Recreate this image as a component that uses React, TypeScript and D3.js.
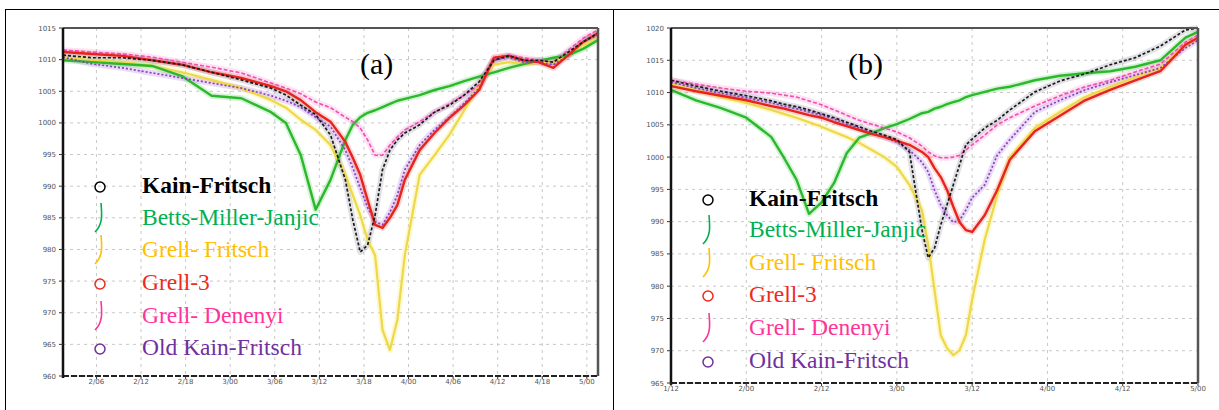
import React from 'react';
import * as d3 from 'd3';

// ---------- Panel (a) data (time in hours, pressure in hPa) ----------
const timeA = [0, 4, 8, 12, 16, 20, 24, 28, 30, 32, 34, 36, 38, 39, 40, 41, 42, 43, 44, 45, 46, 48, 50, 52, 54, 56, 58, 60, 62, 64, 66, 68, 70, 72];
const kfA = [1010.7, 1010.3, 1010.3, 1009.9, 1009.2, 1008.0, 1006.8, 1005.5, 1004.4, 1002.8, 1001.3, 998.1, 991.0, 984.7, 979.6, 980.7, 985.4, 992.6, 995.7, 997.3, 998.4, 999.7, 1001.7, 1002.8, 1004.4, 1006.5, 1009.9, 1010.6, 1009.9, 1009.9, 1009.6, 1011.2, 1012.8, 1014.2];
const bmjA = [1009.9, 1009.6, 1009.3, 1009.0, 1007.4, 1004.3, 1003.9, 1001.7, 1000.0, 994.9, 986.3, 991.0, 997.3, 999.7, 1000.9, 1001.6, 1002.0, 1002.5, 1003.0, 1003.5, 1003.8, 1004.4, 1005.2, 1005.8, 1006.6, 1007.3, 1008.0, 1008.7, 1009.3, 1009.8, 1010.3, 1010.7, 1011.7, 1013.1];
const gfA = [1010.4, 1009.9, 1009.6, 1009.0, 1008.0, 1006.8, 1005.5, 1003.6, 1002.4, 1000.5, 998.9, 996.5, 991.8, 988.6, 985.4, 981.5, 979.1, 967.3, 964.1, 968.9, 979.1, 991.8, 994.9, 998.1, 1002.0, 1006.0, 1009.2, 1009.6, 1009.3, 1009.5, 1009.6, 1010.7, 1012.3, 1013.4];
const g3A = [1011.2, 1010.9, 1010.6, 1009.9, 1009.2, 1008.0, 1007.1, 1005.8, 1005.0, 1003.6, 1001.7, 1000.2, 997.0, 994.5, 991.8, 987.8, 983.9, 983.4, 985.0, 987.0, 991.0, 995.7, 998.4, 1000.8, 1002.8, 1005.2, 1010.3, 1010.6, 1009.9, 1009.6, 1008.7, 1010.7, 1012.8, 1014.2];
const gdA = [1011.5, 1011.2, 1010.9, 1010.4, 1009.6, 1008.8, 1007.9, 1006.3, 1005.5, 1004.6, 1003.3, 1002.4, 1000.9, 1000.2, 999.2, 997.3, 994.9, 994.9, 996.5, 997.8, 998.9, 1000.2, 1001.7, 1003.0, 1004.4, 1006.0, 1010.4, 1010.7, 1010.3, 1009.9, 1009.6, 1011.5, 1013.4, 1014.7];
const okfA = [1010.4, 1009.3, 1008.7, 1007.9, 1007.1, 1006.3, 1005.5, 1004.3, 1003.5, 1002.5, 1000.9, 999.4, 995.7, 992.9, 989.7, 986.6, 984.4, 983.9, 985.9, 988.6, 992.6, 996.5, 998.9, 1000.9, 1003.1, 1005.5, 1009.9, 1010.4, 1009.6, 1009.6, 1009.2, 1010.6, 1012.8, 1013.9];
const yTicksA = [1015, 1010, 1005, 1000, 995, 990, 985, 980, 975, 970, 965, 960];
const xTicksA = [4.5, 10.5, 16.5, 22.5, 28.5, 34.5, 40.5, 46.5, 52.5, 58.5, 64.5, 70.5];
const xLabelsA = ['2/06', '2/12', '2/18', '3/00', '3/06', '3/12', '3/18', '4/00', '4/06', '4/12', '4/18', '5/00'];

// ---------- Panel (b) data ----------
const timeB = [0, 4, 8, 12, 16, 18, 20, 22, 24, 26, 28, 30, 32, 34, 36, 38, 40, 41, 42, 43, 44, 45, 46, 47, 48, 50, 52, 54, 58, 62, 66, 70, 74, 78, 82, 84];
const kfB = [1011.9, 1011.0, 1010.2, 1009.5, 1008.7, 1008.2, 1007.8, 1007.3, 1006.7, 1006.1, 1005.4, 1004.7, 1004.0, 1003.4, 1002.7, 1000.8, 988.7, 984.4, 985.9, 989.5, 992.6, 995.7, 998.8, 1001.9, 1002.8, 1004.5, 1005.7, 1007.3, 1010.1, 1011.8, 1012.9, 1014.3, 1015.4, 1017.2, 1019.7, 1020.0];
const bmjB = [1010.4, 1008.8, 1007.6, 1006.1, 1003.1, 999.9, 996.5, 991.2, 993.0, 996.0, 1000.6, 1003.0, 1003.7, 1004.5, 1005.1, 1005.9, 1006.8, 1007.0, 1007.5, 1007.8, 1008.2, 1008.5, 1008.8, 1009.3, 1009.6, 1010.1, 1010.6, 1010.9, 1011.9, 1012.6, 1013.0, 1013.3, 1014.0, 1015.0, 1018.5, 1019.4];
const gfB = [1011.3, 1010.4, 1009.3, 1008.4, 1007.3, 1006.7, 1006.1, 1005.4, 1004.7, 1003.9, 1003.1, 1002.2, 1001.1, 1000.0, 998.5, 995.7, 991.8, 986.4, 979.4, 972.4, 970.4, 969.3, 970.1, 972.4, 977.9, 987.2, 994.1, 999.9, 1004.5, 1007.0, 1009.3, 1010.9, 1012.4, 1013.8, 1017.4, 1018.5];
const g3B = [1011.0, 1010.2, 1009.5, 1008.8, 1007.9, 1007.5, 1007.0, 1006.5, 1006.1, 1005.4, 1004.8, 1004.2, 1003.6, 1003.1, 1002.5, 1001.9, 1000.8, 1000.0, 998.3, 996.9, 994.9, 992.3, 989.9, 988.7, 988.4, 991.0, 994.9, 999.6, 1004.0, 1006.4, 1008.8, 1010.4, 1011.9, 1013.3, 1017.4, 1018.5];
const gdB = [1011.9, 1011.3, 1010.7, 1010.2, 1009.9, 1009.6, 1009.3, 1008.7, 1008.1, 1007.3, 1006.5, 1005.7, 1005.1, 1004.5, 1003.9, 1003.0, 1001.7, 1000.8, 1000.2, 999.9, 999.9, 1000.0, 1000.3, 1001.1, 1001.9, 1003.4, 1005.0, 1006.1, 1007.9, 1009.5, 1010.9, 1011.9, 1013.2, 1014.4, 1017.8, 1018.9];
const okfB = [1011.6, 1010.7, 1009.9, 1009.2, 1008.4, 1007.9, 1007.5, 1007.0, 1006.5, 1005.9, 1005.1, 1004.5, 1003.7, 1003.1, 1002.3, 1001.1, 999.2, 997.7, 994.9, 992.6, 991.0, 989.9, 990.2, 991.8, 993.7, 995.7, 1000.3, 1002.7, 1007.0, 1008.8, 1010.4, 1011.6, 1012.7, 1013.8, 1016.9, 1018.1];
const yTicksB = [1020, 1015, 1010, 1005, 1000, 995, 990, 985, 980, 975, 970, 965];
const xTicksB = [0, 12, 24, 36, 48, 60, 72, 84];
const xLabelsB = ['1/12', '2/00', '2/12', '3/00', '3/12', '4/00', '4/12', '5/00'];

// ---------- Legend ----------
const seriesNames = ['Kain-Fritsch', 'Betts-Miller-Janjic', 'Grell- Fritsch', 'Grell-3', 'Grell- Denenyi', 'Old Kain-Fritsch'];
const textColors = ['#000000', '#00b050', '#ffc000', '#ee2a1c', '#ff3399', '#7030a0'];
const symbolKinds = ['o', 'j', 'j', 'o', 'j', 'o'];

type Style = { color: string; width: number; dash?: string; halo: string };
const lineStyles: Style[] = [
  { color: '#1a1a1a', width: 1.7, dash: '3,2', halo: 'rgba(120,120,140,0.22)' },
  { color: '#2cb82c', width: 2.4, halo: 'rgba(60,200,60,0.22)' },
  { color: '#eed84a', width: 2.2, halo: 'rgba(245,235,120,0.35)' },
  { color: '#e8231f', width: 2.4, halo: 'rgba(240,80,60,0.22)' },
  { color: '#f04eb0', width: 1.6, dash: '4,2', halo: 'rgba(250,120,200,0.22)' },
  { color: '#8a3fc0', width: 1.7, dash: '2,2', halo: 'rgba(160,90,220,0.22)' },
];
const drawOrder = [2, 1, 5, 4, 3, 0];
const SERIF = "'Liberation Serif', 'Times New Roman', serif";

type PanelProps = {
  left: number; right: number; top: number; bottom: number;
  xDomain: [number, number]; yDomain: [number, number];
  time: number[]; values: number[][];
  xTicks: number[]; xLabels: string[]; yTicks: number[];
  label: string; labelX: number;
  symX: number; textX: number; baselines: number[]; id: string;
};

function Panel(p: PanelProps) {
  const x = d3.scaleLinear().domain(p.xDomain).range([p.left, p.right]);
  const y = d3.scaleLinear().domain(p.yDomain).range([p.top, p.bottom]);
  const line = d3.line<number>().x((_, i) => x(p.time[i])).y((d) => y(d));
  const clip = `clip-${p.id}`;
  return (
    <g>
      <defs>
        <clipPath id={clip}>
          <rect x={p.left} y={p.top - 6} width={p.right - p.left} height={p.bottom - p.top + 6} />
        </clipPath>
      </defs>
      {p.yTicks.map((t, i) => (
        <line key={'gy' + i} x1={p.left} x2={p.right} y1={y(t)} y2={y(t)} stroke="#c8c8c8" strokeWidth={1} strokeDasharray="3,4" />
      ))}
      {p.xTicks.map((t, i) => (
        <line key={'gx' + i} x1={x(t)} x2={x(t)} y1={p.top} y2={p.bottom} stroke="#c8c8c8" strokeWidth={1} strokeDasharray="3,4" />
      ))}
      <g clipPath={`url(#${clip})`}>
        {drawOrder.map((si) => (
          <path key={'h' + si} d={line(p.values[si]) || ''} fill="none" stroke={lineStyles[si].halo} strokeWidth={6} strokeLinejoin="round" />
        ))}
        {drawOrder.map((si) => (
          <path key={'l' + si} d={line(p.values[si]) || ''} fill="none" stroke={lineStyles[si].color} strokeWidth={lineStyles[si].width}
            strokeDasharray={lineStyles[si].dash} strokeLinejoin="round" />
        ))}
      </g>
      <line x1={p.left} x2={p.right} y1={p.top} y2={p.top} stroke="#555" strokeWidth={2} />
      <line x1={p.right} x2={p.right} y1={p.top} y2={p.bottom} stroke="#555" strokeWidth={2.5} />
      <line x1={p.left} x2={p.right} y1={p.bottom} y2={p.bottom} stroke="#222" strokeWidth={2} strokeDasharray="6,2" />
      <line x1={p.left} x2={p.left} y1={p.top} y2={p.bottom + 2} stroke="#111" strokeWidth={2.5} />
      {p.yTicks.map((t, i) => (
        <g key={'ty' + i}>
          <line x1={p.left - 4} x2={p.left} y1={y(t)} y2={y(t)} stroke="#333" strokeWidth={1} />
          <text x={p.left - 7} y={y(t) + 2.5} fontSize={7} fill="#555" textAnchor="end" fontFamily="'DejaVu Sans', sans-serif">{t}</text>
        </g>
      ))}
      {p.xTicks.map((t, i) => (
        <g key={'tx' + i}>
          <line x1={x(t)} x2={x(t)} y1={p.bottom} y2={p.bottom + 3} stroke="#333" strokeWidth={1} />
          <text x={x(t)} y={p.bottom + 8} fontSize={7} fill="#555" textAnchor="middle" fontFamily="'DejaVu Sans', sans-serif">{p.xLabels[i]}</text>
        </g>
      ))}
      <text x={p.labelX} y={74} fontSize={30} fontFamily={SERIF} fill="#000">{p.label}</text>
      {seriesNames.map((n, i) => {
        const b = p.baselines[i];
        const c = textColors[i];
        return (
          <g key={'lg' + i}>
            {symbolKinds[i] === 'o' ? (
              <circle cx={p.symX} cy={b - 6} r={5} fill="none" stroke={c} strokeWidth={1.5} />
            ) : (
              <path d={`M${p.symX + 1},${b - 22} C${p.symX + 2},${b - 10} ${p.symX + 3},${b - 1} ${p.symX - 5},${b + 7}`} fill="none" stroke={c} strokeWidth={1.6} />
            )}
            <text x={p.textX} y={b} fontSize={23.5} fontWeight={i === 0 ? 'bold' : 'normal'} fill={c}
              style={{ fontFamily: SERIF }}>{n}</text>
          </g>
        );
      })}
    </g>
  );
}

export default function App() {
  const W = 1219, H = 410;
  return (
    <svg width={W} height={H} style={{ position: 'absolute', left: 0, top: 0, background: '#fff' }}>
      <rect x={0} y={0} width={W} height={H} fill="#fff" />
      <line x1={5} x2={W} y1={9.5} y2={9.5} stroke="#000" strokeWidth={1} />
      <line x1={5.5} x2={5.5} y1={9} y2={H} stroke="#000" strokeWidth={1} />
      <line x1={613.5} x2={613.5} y1={9} y2={H} stroke="#000" strokeWidth={1} />
      <Panel id="a" left={63} right={598} top={28} bottom={376} xDomain={[0, 72]} yDomain={[1015, 960]}
        time={timeA} values={[kfA, bmjA, gfA, g3A, gdA, okfA]}
        xTicks={xTicksA} xLabels={xLabelsA} yTicks={yTicksA}
        label="(a)" labelX={360} symX={100} textX={142} baselines={[193, 225, 257, 290, 323, 355]} />
      <Panel id="b" left={671} right={1198} top={28} bottom={383} xDomain={[0, 84]} yDomain={[1020, 965]}
        time={timeB} values={[kfB, bmjB, gfB, g3B, gdB, okfB]}
        xTicks={xTicksB} xLabels={xLabelsB} yTicks={yTicksB}
        label="(b)" labelX={848} symX={708} textX={749} baselines={[206, 237, 270, 302, 335, 368]} />
    </svg>
  );
}
